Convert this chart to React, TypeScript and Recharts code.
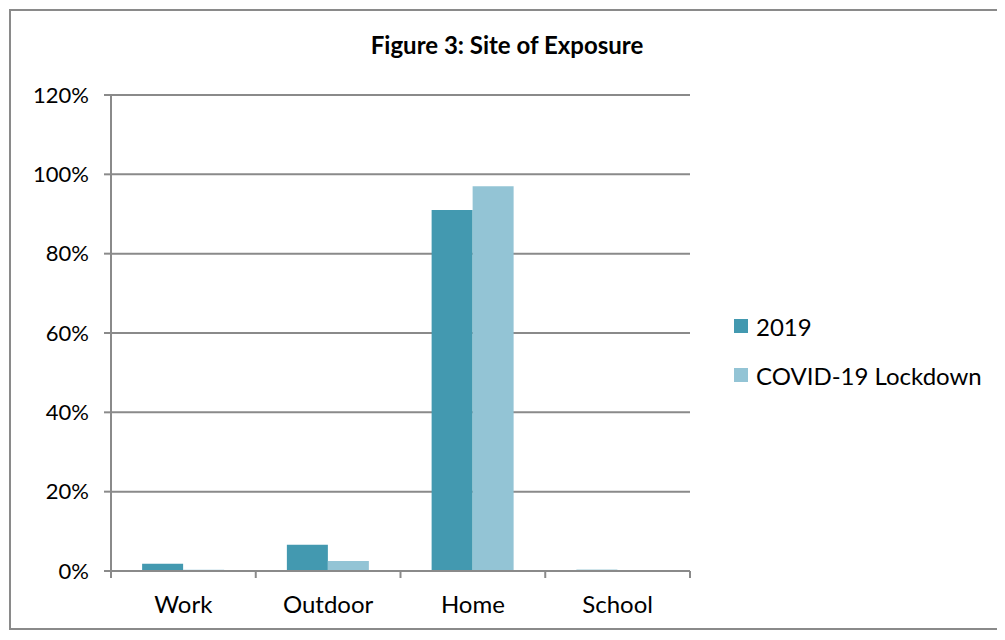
import React from 'react';
import { BarChart, Bar, XAxis, YAxis, CartesianGrid } from 'recharts';

const categories = ['Work', 'Outdoor', 'Home', 'School'];
const values2019 = [0.018, 0.066, 0.91, 0.003];
const valuesLockdown = [0.003, 0.025, 0.97, 0];
const yTicks = [0, 0.2, 0.4, 0.6, 0.8, 1.0, 1.2];

const seriesNames = ['2019', 'COVID-19 Lockdown'];
const colors = ['#4399b0', '#93c4d5'];

const data = categories.map((name, i) => ({
  name,
  y2019: values2019[i],
  lockdown: valuesLockdown[i],
}));

const FONT = 'Lato, "Open Sans", sans-serif';
const GREY = '#8a8a8a';

// category ticks sit on the band edges, like the original spreadsheet chart
const CategoryTick = (props: any) => {
  const { x, y, payload, index } = props;
  const band = 579 / categories.length;
  const left = x - band / 2;
  return (
    <g>
      <line x1={left} x2={left} y1={y - 8} y2={y - 1} stroke={GREY} strokeWidth={2} />
      {index === categories.length - 1 && (
        <line x1={left + band} x2={left + band} y1={y - 8} y2={y - 1} stroke={GREY} strokeWidth={2} />
      )}
      <text x={x} y={y + 34} textAnchor="middle" fill="#000" fontSize={24} fontFamily={FONT}>
        {payload.value}
      </text>
    </g>
  );
};

export default function App() {
  return (
    <div style={{ position: 'relative', width: 1005, height: 640, margin: -8, background: '#fff' }}>
      <div
        style={{
          position: 'absolute',
          left: 9,
          top: 9,
          width: 987,
          height: 617,
          border: `2px solid ${GREY}`,
        }}
      />
      <BarChart
        width={1005}
        height={640}
        data={data}
        margin={{ top: 95, right: 315, bottom: 29, left: 0 }}
        barGap={0}
        barCategoryGap="21.5%"
        style={{ position: 'absolute', left: 0, top: 0 }}
      >
        <CartesianGrid vertical={false} stroke={GREY} strokeWidth={2} />
        <XAxis
          dataKey="name"
          height={40}
          axisLine={{ stroke: GREY, strokeWidth: 2 }}
          tickLine={false}
          tick={<CategoryTick />}
          interval={0}
        />
        <YAxis
          width={111}
          domain={[0, 1.2]}
          ticks={yTicks}
          tickFormatter={(v: number) => `${Math.round(v * 100)}%`}
          axisLine={{ stroke: GREY, strokeWidth: 2 }}
          tickLine={{ stroke: GREY, strokeWidth: 2 }}
          tickSize={7}
          tickMargin={15}
          tick={{ fill: '#000', fontSize: 22, fontFamily: FONT }}
        />
        <Bar dataKey="y2019" name={seriesNames[0]} fill={colors[0]} isAnimationActive={false} />
        <Bar dataKey="lockdown" name={seriesNames[1]} fill={colors[1]} isAnimationActive={false} />
      </BarChart>
      <div
        style={{
          position: 'absolute',
          left: 300,
          width: 414,
          top: 30,
          textAlign: 'center',
          fontFamily: FONT,
          fontWeight: 700,
          fontSize: 24,
          color: '#000',
        }}
      >
        Figure 3: Site of Exposure
      </div>
      <div style={{ position: 'absolute', left: 734, top: 309, fontFamily: FONT, fontSize: 24, color: '#000' }}>
        {seriesNames.map((n, i) => (
          <div key={n} style={{ display: 'flex', alignItems: 'center', height: 34, marginBottom: 15 }}>
            <span style={{ width: 14, height: 14, background: colors[i], marginRight: 8, display: 'inline-block' }} />
            {n}
          </div>
        ))}
      </div>
    </div>
  );
}
